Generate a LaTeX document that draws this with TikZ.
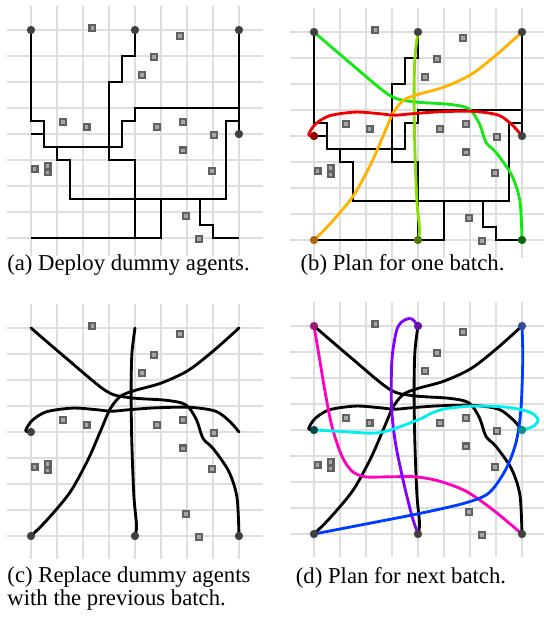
\documentclass[tikz,border=0pt]{standalone}
\usepackage{fontspec}
\setmainfont{Liberation Serif}
\usepackage{xcolor}

\definecolor{pathgreen}{RGB}{20,232,20}
\definecolor{pathlime}{RGB}{135,222,0}
\definecolor{pathorange}{RGB}{255,178,0}
\definecolor{pathred}{RGB}{240,0,0}
\definecolor{pathpink}{RGB}{255,0,190}
\definecolor{pathviolet}{RGB}{130,0,255}
\definecolor{pathblue}{RGB}{0,60,255}
\definecolor{pathcyan}{RGB}{0,240,240}

\tikzset{
  gridline/.style={draw=black!13, line width=0.5pt, step=1},
  route/.style={line width=1.25pt, line join=miter},
  trail/.style={line width=1.25pt, line cap=round},
  agentdot/.style={fill=black!75},
  block/.style={fill=black!62},
  blockcore/.style={fill=black!35},
  caption/.style={inner sep=0pt, font=\fontsize{10pt}{10pt}\selectfont},
  panel/.style={yscale=-1, x=11.44pt, y=11.44pt},
}

% grid of one panel, #1 = lower end of the vertical lines
\newcommand{\cellgrid}[1]{\draw[gridline] (-0.92,#1) grid (8.92,8.92);}

% start and goal cells
\newcommand{\agentspots}{%
  \coordinate (nw) at (0,8); \coordinate (n) at (4,8); \coordinate (ne) at (8,8);
  \coordinate (w) at (0,4); \coordinate (e) at (8,4);
  \coordinate (sw) at (0,0); \coordinate (s) at (4,0); \coordinate (se) at (8,0);}

% obstacles
\newcommand{\blocks}{%
  \foreach \ox/\oy in {2.36/8.08, 5.74/7.78, 4.74/6.97, 4.26/6.27, 1.24/4.46, 2.14/4.27,
      4.85/4.27, 5.85/4.46, 7.05/3.97, 5.85/3.37, 6.95/2.57, 0.14/2.65, 0.64/2.78,
      0.64/2.52, 5.95/0.85, 6.45/-0.04}{
    \fill[block] (\ox-0.15,\oy-0.15) rectangle ++(0.3,0.3);
    \fill[blockcore] (\ox-0.07,\oy-0.07) rectangle ++(0.14,0.14);
  }}

% routes of the dummy agents
\newcommand{\dummyroutes}{%
  \draw[route] (nw) -- (0,4.5) -- (0.5,4.5) -- (0.5,3.5) -- (3.5,3.5) -- (3.5,4.5) -- (4,4.5) -- (4,5) -- (8,5);
  \draw[route] (ne) -- (e);
  \draw[route] (8,4.5) -- (7.5,4.5) -- (7.5,1.5) -- (1.5,1.5) -- (1.5,3) -- (1,3) -- (1,3.5);
  \draw[route] (w) -- (0.5,4);
  \draw[route] (n) -- (4,7) -- (3.5,7) -- (3.5,6) -- (3,6) -- (3,3) -- (4,3) -- (s);
  \draw[route] (sw) -- (5,0) -- (5,1.5);
  \draw[route] (6.5,1.5) -- (6.5,0.5) -- (7,0.5) -- (7,0) -- (se);}

% paths of the first batch
\newcommand{\batchone}[4]{%
  \draw[trail, #1] plot[smooth] coordinates {(nw) (1.4,6.8) (2.9,5.57) (3.8,5.32) (5.2,5.22) (5.95,5.05)
      (6.35,4.5) (6.62,3.75) (7.0,3.37) (7.6,2.5) (7.92,1.5) (se)};
  \draw[trail, #2] plot[smooth] coordinates {(n) (3.88,7) (3.85,5.5) (3.88,3.5) (3.96,1.5) (4.06,0.4) (s)};
  \draw[trail, #3] plot[smooth] coordinates {(ne) (7.05,7.15) (6.05,6.37) (5.0,5.88) (4.0,5.6) (3.45,5.38)
      (3.05,4.9) (2.7,4.1) (2.2,2.95) (1.5,1.68) (0.6,0.6) (sw)};
  \draw[trail, #4] plot[smooth] coordinates {(w) (-0.2,4.06) (0.05,4.45) (0.6,4.78) (1.6,4.92) (2.5,4.86)
      (3.1,4.8) (3.8,4.86) (4.8,4.93) (6.1,4.95) (7.1,4.8) (7.65,4.4) (e)};}

\begin{document}
\begin{tikzpicture}[x=0.44pt,y=0.44pt,yscale=-1]
\useasboundingbox (0,0) rectangle (544,624);

%Panel (a)
\begin{scope}[shift={(31,238)}, panel, name prefix=a-]
  \cellgrid{-0.7}
  \agentspots
  \blocks
  \dummyroutes
  \foreach \p in {nw,n,ne,e} \fill[agentdot] (\p) circle[radius=0.16];
\end{scope}

%Panel (b)
\begin{scope}[shift={(314,240)}, panel, name prefix=b-]
  \cellgrid{-0.7}
  \agentspots
  \blocks
  \dummyroutes
  \batchone{pathgreen}{pathlime}{pathorange}{pathred}
  \foreach \p in {nw,n,ne,e} \fill[agentdot] (\p) circle[radius=0.16];
  \fill[red!55!black] (w) circle[radius=0.16];
  \fill[orange!65!black!90] (sw) circle[radius=0.16];
  \fill[pathlime!55!black] (s) circle[radius=0.16];
  \fill[pathgreen!45!black] (se) circle[radius=0.16];
\end{scope}

%Panel (c)
\begin{scope}[shift={(31,536)}, panel, name prefix=c-]
  \cellgrid{-0.88}
  \agentspots
  \blocks
  \batchone{black}{black}{black}{black}
  \foreach \p in {w,sw,s,se} \fill[agentdot] (\p) circle[radius=0.16];
\end{scope}

%Panel (d)
\begin{scope}[shift={(314,534)}, panel, name prefix=d-]
  \cellgrid{-0.9}
  \agentspots
  \blocks
  \batchone{black}{black}{black}{black}
  \draw[trail, pathpink] plot[smooth] coordinates {(nw) (0.17,7.0) (0.43,5.45) (0.7,4.1) (1.07,3.0) (1.46,2.42)
      (1.97,2.2) (2.9,2.2) (3.9,2.2) (4.8,2.04) (5.84,1.65) (6.87,0.94) (se)};
  \draw[trail, pathviolet] plot[smooth] coordinates {(n) (3.77,8.27) (3.5,8.24) (3.2,7.9) (3.0,6.74) (2.98,4.94)
      (3.13,3.52) (3.45,1.97) (3.77,0.68) (s)};
  \draw[trail, pathblue] plot[smooth] coordinates {(ne) (8.03,6.74) (7.96,4.81) (7.77,3.52) (7.38,2.49)
      (6.74,1.59) (5.84,1.2) (4.16,0.81) (2.23,0.43) (sw)};
  \draw[trail, pathcyan] plot[smooth] coordinates {(w) (0.94,3.95) (2.2,3.88) (2.87,3.98) (4.03,4.4) (4.55,4.66)
      (5.06,4.82) (6.1,4.92) (7.38,4.88) (8.29,4.69) (8.61,4.41) (8.46,4.15) (e)};
  \fill[pathpink!55!black!90] (nw) circle[radius=0.16];
  \fill[pathviolet!60!black!90] (n) circle[radius=0.16];
  \fill[pathblue!50!black!80] (ne) circle[radius=0.16];
  \fill[pathcyan!30!black] (w) circle[radius=0.16];
  \fill[pathcyan!60!black] (e) circle[radius=0.16];
  \foreach \p in {sw,s,se} \fill[agentdot] (\p) circle[radius=0.16];
\end{scope}

%Captions
\node[caption, anchor=base] (capa) at (128.5,270) {(a) Deploy dummy agents.};
\node[caption, anchor=base] (capb) at (402.5,270) {(b) Plan for one batch.};
\node[caption, anchor=base west, align=left] (capc) at (7,605) {(c) Replace dummy agents\\with the previous batch.};
\node[caption, anchor=base] (capd) at (401,583) {(d) Plan for next batch.};
\end{tikzpicture}
\end{document}
